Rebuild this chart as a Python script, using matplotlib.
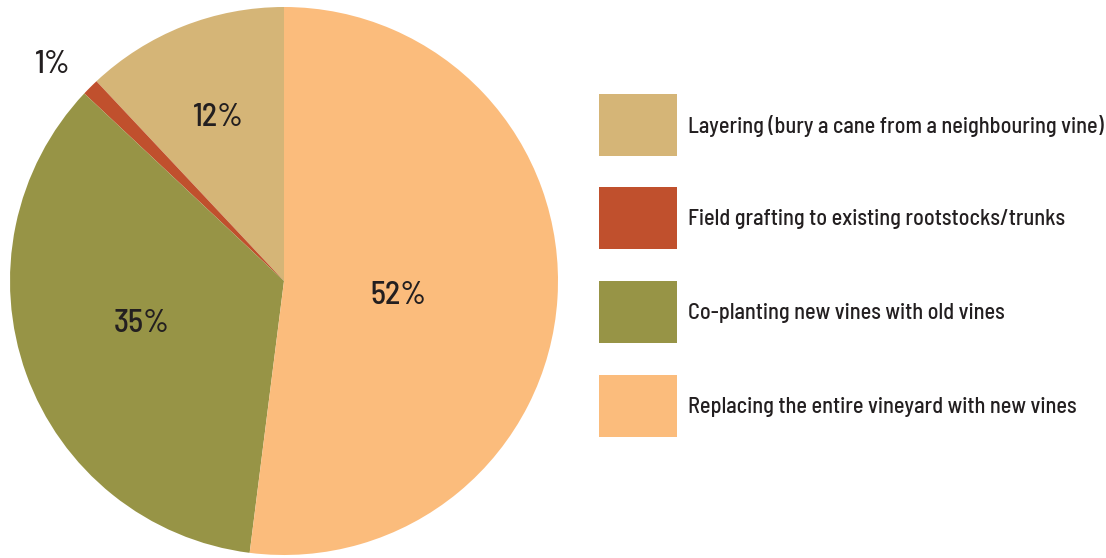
import numpy as np
import matplotlib

matplotlib.use("Agg")
import matplotlib.pyplot as plt
from matplotlib.patches import Rectangle
from matplotlib import font_manager, transforms

categories = [
    "Layering (bury a cane from a neighbouring vine)",
    "Field grafting to existing rootstocks/trunks",
    "Co-planting new vines with old vines",
    "Replacing the entire vineyard with new vines",
]
shares = [12, 1, 35, 52]
colors = ["#D5B577", "#C0502D", "#979446", "#FBBC7C"]
# label placement: radius (fraction of pie radius) and angle shift from wedge middle
label_r = [0.655, 1.164, 0.538, 0.418]
label_dtheta = [0.0, 1.6, -4.4, -2.4]

names = {f.name for f in font_manager.fontManager.ttflist}
wanted = ["Barlow Semi Condensed", "Barlow Condensed", "Roboto Condensed", "DejaVu Sans"]
family = [n for n in wanted if n in names]
plt.rcParams["font.family"] = family
text_color = "#231F20"

W, H = 1106, 558
fig = plt.figure(figsize=(W / 100, H / 100), dpi=100)

# pie axes: centre (284, 281) px, radius 274 px
cx, cy, r = 284, 281, 274
pax = fig.add_axes([(cx - r) / W, (H - cy - r) / H, 2 * r / W, 2 * r / H])
wedges, _ = pax.pie(shares, colors=colors, startangle=90, counterclock=True,
                    radius=1, wedgeprops=dict(linewidth=0))
pax.set_xlim(-1, 1)
pax.set_ylim(-1, 1)
pax.set_aspect("equal")
pax.axis("off")
shifted = transforms.offset_copy(pax.transData, fig=fig, x=0, y=-3, units="dots")
for w, s, lr, dt in zip(wedges, shares, label_r, label_dtheta):
    mid = np.deg2rad((w.theta1 + w.theta2) / 2 + dt)
    pax.text(lr * np.cos(mid), lr * np.sin(mid), f"{s}%", ha="center", va="center",
             fontsize=23, fontweight="medium", color=text_color, clip_on=False,
             transform=shifted)

# legend in pixel coordinates
lax = fig.add_axes([0, 0, 1, 1])
lax.set_xlim(0, W)
lax.set_ylim(H, 0)
lax.axis("off")
lax.patch.set_alpha(0)
row_y = [125, 218, 312, 406]
for y, c, name in zip(row_y, colors, categories):
    lax.add_patch(Rectangle((599, y - 31), 78, 62, color=c, linewidth=0))
    lax.text(688, y + 1, name, ha="left", va="center", fontsize=16,
             fontweight="medium", color=text_color)

fig.savefig("out.png", dpi=100)
